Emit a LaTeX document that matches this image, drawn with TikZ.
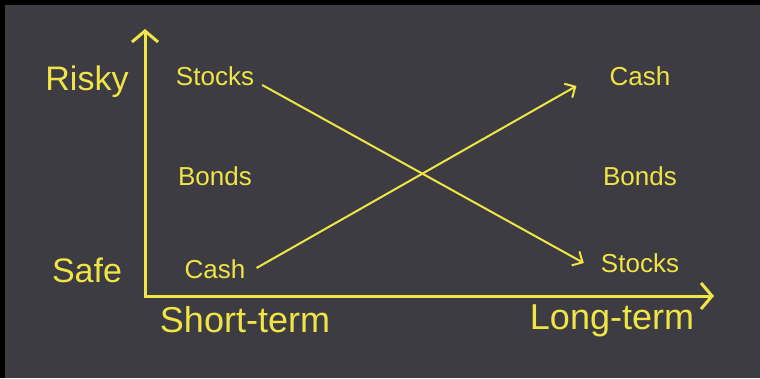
\documentclass[tikz,border=0pt]{standalone}
\usepackage{fontspec}
\setmainfont{Liberation Sans}
\usetikzlibrary{arrows.meta}
\definecolor{slate}{RGB}{60,60,66}
\definecolor{lemon}{RGB}{240,228,70}
\tikzset{
  big/.style={text=lemon, inner sep=0pt, font=\fontsize{34}{40}\selectfont},
  wide/.style={big, font=\fontsize{36}{42}\selectfont},
  small/.style={text=lemon, inner sep=0pt, font=\fontsize{26}{31}\selectfont},
  axis/.style={draw=lemon, line width=3pt},
  flow/.style={draw=lemon, line width=2pt, -{Straight Barb[length=8pt,width=16pt]}}
}
\begin{document}
\begin{tikzpicture}[x=1pt,y=-1pt]
  % frame and background
  \fill[black] (0,0) rectangle (760,378);
  \fill[slate] (5,5) rectangle (760,378);
  \useasboundingbox (0,0) rectangle (760,378);

  % axes
  \coordinate (top) at (145,29);
  \coordinate (O) at (145,296);
  \coordinate (right) at (714,296);
  \draw[axis, {Straight Barb[length=11pt,width=26pt]}-{Straight Barb[length=11pt,width=26pt]}]
    (top) -- (O) -- (right);

  % axis labels
  \node[big] (risky) at (87,82) {Risky};
  \node[big] (safe) at (87,270) {Safe};
  \node[wide] (short) at (245,320) {Short-term};
  \node[wide] (long) at (612,321) {Long-term};

  % short-term ranking
  \node[small] (stS) at (215,76) {Stocks};
  \node[small] (bdS) at (215,176) {Bonds};
  \node[small] (chS) at (215,269) {Cash};

  % long-term ranking
  \node[small] (chL) at (640,76) {Cash};
  \node[small] (bdL) at (640,176) {Bonds};
  \node[small] (stL) at (640,263) {Stocks};

  % crossing arrows
  \draw[flow] ([shift={(8,9)}]stS.east) -- ([xshift=-17]stL.west);
  \draw[flow] ([shift={(11,-1)}]chS.east) -- ([shift={(-33,10)}]chL.west);
\end{tikzpicture}
\end{document}
